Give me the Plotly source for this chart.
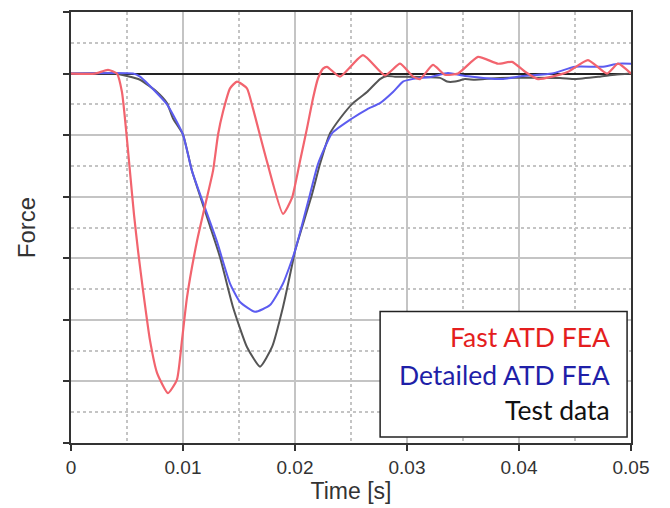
import plotly.graph_objects as go

# ---- data (time in s, force in grid units) ----
fast_t = [0, 0.00214, 0.0033, 0.0041, 0.00455, 0.00491, 0.00527, 0.00563, 0.0060, 0.00643, 0.00705,
          0.00768, 0.00866, 0.00946, 0.00991, 0.01036, 0.01125, 0.01196, 0.01268, 0.01313, 0.01357,
          0.01420, 0.01482, 0.01571, 0.01625, 0.0175, 0.01893, 0.01973, 0.02045, 0.02107, 0.02161,
          0.02205, 0.02250, 0.02286, 0.02402, 0.02607, 0.02804, 0.02938, 0.03054, 0.03116,
          0.03232, 0.03339, 0.03455, 0.03634, 0.03813, 0.03938, 0.04054, 0.0417, 0.04295, 0.04438,
          0.04616, 0.04786, 0.04884, 0.05]
fast_f = [0, 0, 0.06, 0, -0.3, -0.9, -1.6, -2.3, -2.9, -3.52, -4.33,
          -4.86, -5.19, -4.97, -4.33, -3.63, -2.72, -2.15, -1.58, -0.99, -0.62,
          -0.24, -0.13, -0.24, -0.57, -1.43, -2.28, -2.02, -1.42, -0.89, -0.4,
          -0.08, 0.08, 0.11, -0.05, 0.3, -0.03, 0.16, -0.05, -0.09,
          0.14, -0.02, 0, 0.27, 0.16, 0.19, 0.03, -0.09, -0.05, 0.03,
          0.22, 0, 0.16, 0]

detailed_t = [0, 0.00554, 0.00616, 0.00768, 0.00857, 0.00911, 0.0100, 0.0108, 0.0130, 0.0142,
              0.01509, 0.01643, 0.01777, 0.01893, 0.0200, 0.02134, 0.02205, 0.0233, 0.02509, 0.02643,
              0.02759, 0.02875, 0.02964, 0.03045, 0.03223, 0.03366, 0.03518, 0.03848, 0.04027, 0.04295,
              0.045, 0.04741, 0.04884, 0.05]
detailed_f = [0, 0, -0.05, -0.32, -0.5, -0.67, -0.99, -1.58, -2.71, -3.41,
              -3.71, -3.87, -3.76, -3.41, -2.88, -1.96, -1.47, -0.97, -0.73, -0.58,
              -0.48, -0.3, -0.13, -0.09, -0.05, 0.01, -0.04, -0.09, -0.04, 0,
              0.11, 0.11, 0.16, 0.16]

test_t = [0, 0.00393, 0.00616, 0.00768, 0.00857, 0.00911, 0.0100, 0.0108, 0.0133, 0.01446,
          0.01571, 0.01688, 0.01795, 0.01893, 0.01982, 0.02, 0.02152, 0.02223, 0.02313, 0.02402,
          0.02518, 0.02643, 0.02759, 0.02821, 0.02893, 0.03295, 0.03357, 0.03429, 0.03518, 0.03607,
          0.0383, 0.04366, 0.045, 0.04723, 0.04857, 0.05]
test_f = [0, 0, -0.1, -0.3, -0.48, -0.73, -0.99, -1.58, -2.98, -3.79,
          -4.44, -4.76, -4.44, -3.79, -3.04, -2.88, -1.96, -1.47, -0.97, -0.73,
          -0.48, -0.3, -0.09, -0.04, -0.05, -0.07, -0.13, -0.13, -0.09, -0.1,
          -0.07, -0.07, -0.09, -0.05, -0.02, 0]

x_ticks = [0, 0.01, 0.02, 0.03, 0.04, 0.05]
x_tick_labels = ["0", "0.01", "0.02", "0.03", "0.04", "0.05"]
legend_labels = ["Fast ATD FEA", "Detailed ATD FEA", "Test data"]
legend_colors = ["#e41e1e", "#1f1fa8", "#111111"]

fig = go.Figure()
fig.add_trace(go.Scatter(x=test_t, y=test_f, mode="lines", name="Test data",
                         line=dict(color="#555555", width=2, shape="spline", smoothing=0.5)))
fig.add_trace(go.Scatter(x=detailed_t, y=detailed_f, mode="lines", name="Detailed ATD FEA",
                         line=dict(color="#5c5cf0", width=2, shape="spline", smoothing=0.5)))
fig.add_trace(go.Scatter(x=fast_t, y=fast_f, mode="lines", name="Fast ATD FEA",
                         line=dict(color="#f2646e", width=2.2, shape="spline", smoothing=0.5)))

axis_font = dict(family="Liberation Sans, Arial, sans-serif", size=19, color="#333333")

fig.update_xaxes(range=[0, 0.05], tickvals=x_ticks, ticktext=x_tick_labels,
                 showgrid=True, gridcolor="#c4c4c4", gridwidth=1.5,
                 minor=dict(dtick=0.005, tick0=0, showgrid=True, gridcolor="#c4c4c4",
                            griddash="dot", gridwidth=1.5, ticks=""),
                 showline=True, linecolor="#333333", linewidth=2, mirror=True,
                 ticks="outside", ticklen=6, tickcolor="#333333", tickwidth=2,
                 tickfont=axis_font, zeroline=False,
                 title=dict(text="Time [s]", font=dict(family="Liberation Sans, Arial, sans-serif", size=23, color="#333333"), standoff=2))
fig.update_yaxes(range=[-6, 1], dtick=1, tick0=0, showticklabels=False,
                 showgrid=True, gridcolor="#c4c4c4", gridwidth=1.5,
                 minor=dict(dtick=0.5, tick0=0, showgrid=True, gridcolor="#c4c4c4",
                            griddash="dot", gridwidth=1.5, ticks=""),
                 showline=True, linecolor="#333333", linewidth=2, mirror=True,
                 ticks="outside", ticklen=6, tickcolor="#333333", tickwidth=2,
                 zeroline=True, zerolinecolor="#222222", zerolinewidth=2,
                 title=dict(text="Force", font=dict(family="Liberation Sans, Arial, sans-serif", size=24, color="#333333"), standoff=21))

# legend box
fig.add_shape(type="rect", xref="paper", yref="paper", x0=0.552, x1=0.993, y0=0.014, y1=0.305,
              line=dict(color="#222222", width=1.5), fillcolor="white", layer="above")
legend_y = [0.245, 0.158, 0.076]
for lab, col, yy in zip(legend_labels, legend_colors, legend_y):
    fig.add_annotation(text=lab, xref="paper", yref="paper", x=0.966, y=yy,
                       xanchor="right", yanchor="middle", showarrow=False,
                       font=dict(family="Lato, Open Sans, sans-serif", size=26.5, color=col))

fig.update_layout(width=670, height=508, margin=dict(l=71, r=39, t=10, b=65),
                  paper_bgcolor="white", plot_bgcolor="white", showlegend=False)

fig.write_html("out.html")
